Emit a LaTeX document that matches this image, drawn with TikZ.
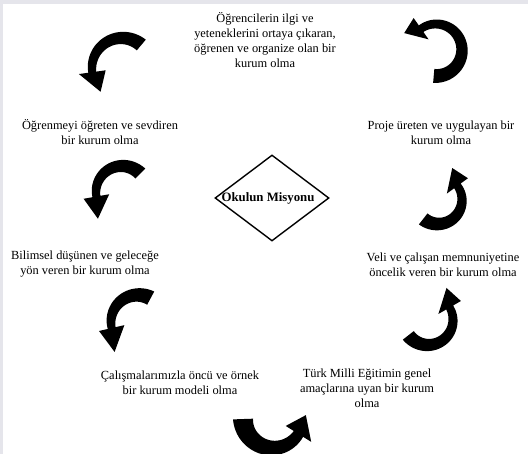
\documentclass[tikz,border=0pt]{standalone}
\usepackage{fontspec}
\setmainfont{Liberation Serif}
\usetikzlibrary{shapes.geometric}

% Curved block arrow drawn around the current origin.
% #1 mid radius, #2 tail angle, #3 angle of the head base,
% #4 band width at the tail, #5 band width at the neck,
% #6 width of the head base, #7 tip angle, #8 tip radius
\newcommand\curvarrow[8]{%
  \fill[black]
    plot[domain=#2:#3, samples=48, variable=\t]
      (\t:{#1+((#4)+((#5)-(#4))*(\t-(#2))/((#3)-(#2)))/2})
    -- (#3:{#1+(#6)/2}) -- (#7:#8) -- (#3:{#1-(#6)/2})
    -- plot[domain=#3:#2, samples=48, variable=\t]
      (\t:{#1-((#4)+((#5)-(#4))*(\t-(#2))/((#3)-(#2)))/2})
    -- cycle;}

\tikzset{
  goal/.style={align=center, font=\fontsize{12.4}{15}\selectfont, inner sep=0pt},
  core/.style={diamond, draw=black, line width=1.4pt, minimum width=114pt,
    minimum height=86pt, inner sep=0pt},
}

\begin{document}
\begin{tikzpicture}[x=1pt, y=1pt]
  \useasboundingbox (0,0) rectangle (528,454);
  \fill[white] (0,0) rectangle (528,454);
  % light frame strips along the top and left edges
  \fill[blue!12!gray!18] (0,450) rectangle (528,454);
  \fill[blue!12!gray!18] (0,0) rectangle (2.5,454);

  % centre
  \node[core, label={[font=\fontsize{12.8}{15}\selectfont\bfseries, xshift=-4pt]center:Okulun Misyonu}]
    (mis) at (272,256) {};

  % mission statements
  \node[goal] (t1) at (265,414) {Öğrencilerin ilgi ve\\yeteneklerini ortaya çıkaran,\\öğrenen ve organize olan bir\\kurum olma};
  \node[goal] (t2) at (100,321.5) {Öğrenmeyi öğreten ve sevdiren\\bir kurum olma};
  \node[goal] (t3) at (441,321.5) {Proje üreten ve uygulayan bir\\kurum olma};
  \node[goal] (t4) at (85,189.5) {Bilimsel düşünen ve geleceğe\\yön veren bir kurum olma};
  \node[goal] (t5) at (443,189.5) {Veli ve çalışan memnuniyetine\\öncelik veren bir kurum olma};
  \node[goal] (t6) at (180,71.5) {Çalışmalarımızla öncü ve örnek\\bir kurum modeli olma};
  \node[goal] (t7) at (367,66) {Türk Milli Eğitimin genel\\amaçlarına uyan bir kurum\\olma};

  % curved arrows running round the cycle
  \begin{scope}[shift={(122,386)}]\curvarrow{30}{50}{188}{14}{8}{27}{228}{32}\end{scope}
  \begin{scope}[shift={(436,404)}]\curvarrow{26}{-95}{125}{14}{8}{26}{152}{36}\end{scope}
  \begin{scope}[shift={(438,254)}]\curvarrow{24}{-128}{36}{14}{8}{26}{66}{35}\end{scope}
  \begin{scope}[shift={(428,134)}]\curvarrow{25}{-142}{30}{14}{8}{26}{60}{37}\end{scope}
  \begin{scope}[shift={(273,36)}]\curvarrow{30}{182}{328}{20}{11}{30}{365}{33}\end{scope}
  \begin{scope}[shift={(138,132)}]\curvarrow{27}{62}{193}{15}{8}{26}{232}{38}\end{scope}
  \begin{scope}[shift={(122,262)}]\curvarrow{26}{45}{190}{14}{8}{26}{228}{36}\end{scope}
\end{tikzpicture}
\end{document}
